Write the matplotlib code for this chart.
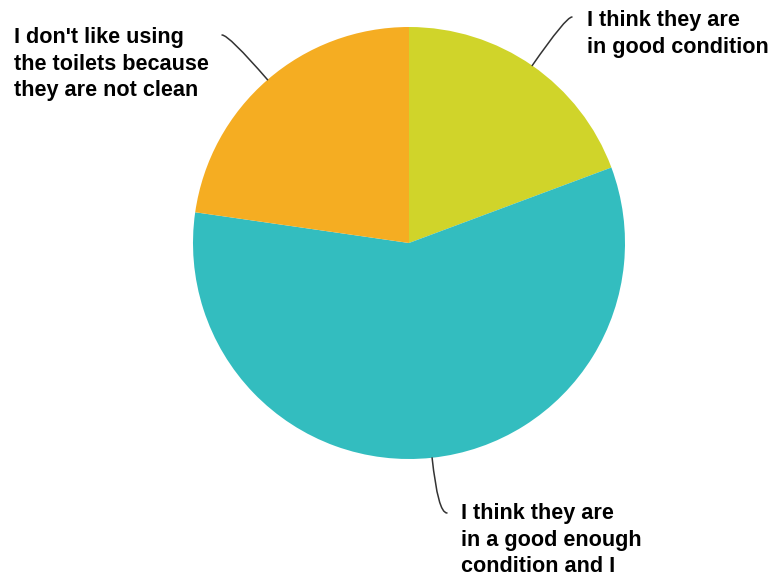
import numpy as np
import matplotlib
matplotlib.use("Agg")
import matplotlib.pyplot as plt

# Data:

labels = [
    "I think they are\nin good condition",
    "I think they are\nin a good enough\ncondition and I",
    "I don't like using\nthe toilets because\nthey are not clean",
]
values = [17, 51, 20]
colors = ["#D0D42A", "#33BDBF", "#F5AD22"]

# Plot:

W, H = 769, 578
fig = plt.figure(figsize=(W / 100, H / 100), dpi=100)
ax = fig.add_axes([0, 0, 1, 1])

cx, cy, r = 409, H - 243, 216

wedges, _ = ax.pie(values, colors=colors, startangle=90, counterclock=False,
                   center=(cx, cy), radius=r, frame=True)
ax.set_xlim(0, W)
ax.set_ylim(0, H)
ax.set_aspect("equal")
ax.axis("off")

# Label placement (text top-left, leader start):

text_pos = [(587, H - 10), (461, H - 503), (14, H - 27)]
line_start = [(572, H - 17), (447, H - 513), (222, H - 35)]

for w, lab, tp, ls in zip(wedges, labels, text_pos, line_start):
    mid = np.deg2rad((w.theta1 + w.theta2) / 2)
    ex, ey = cx + r * np.cos(mid), cy + r * np.sin(mid)
    ang_b = np.rad2deg(mid)
    ax.annotate("", xy=(ex, ey), xytext=ls,
                arrowprops=dict(arrowstyle="-", color="#333333", lw=1.1,
                                shrinkA=0, shrinkB=0,
                                connectionstyle=f"angle3,angleA=0,angleB={ang_b:.1f}"))
    ax.text(tp[0], tp[1], lab, ha="left", va="top", fontsize=15.6,
            fontweight="bold", family="Liberation Sans", linespacing=1.35)

plt.savefig("out.png", dpi=100)
plt.close()
